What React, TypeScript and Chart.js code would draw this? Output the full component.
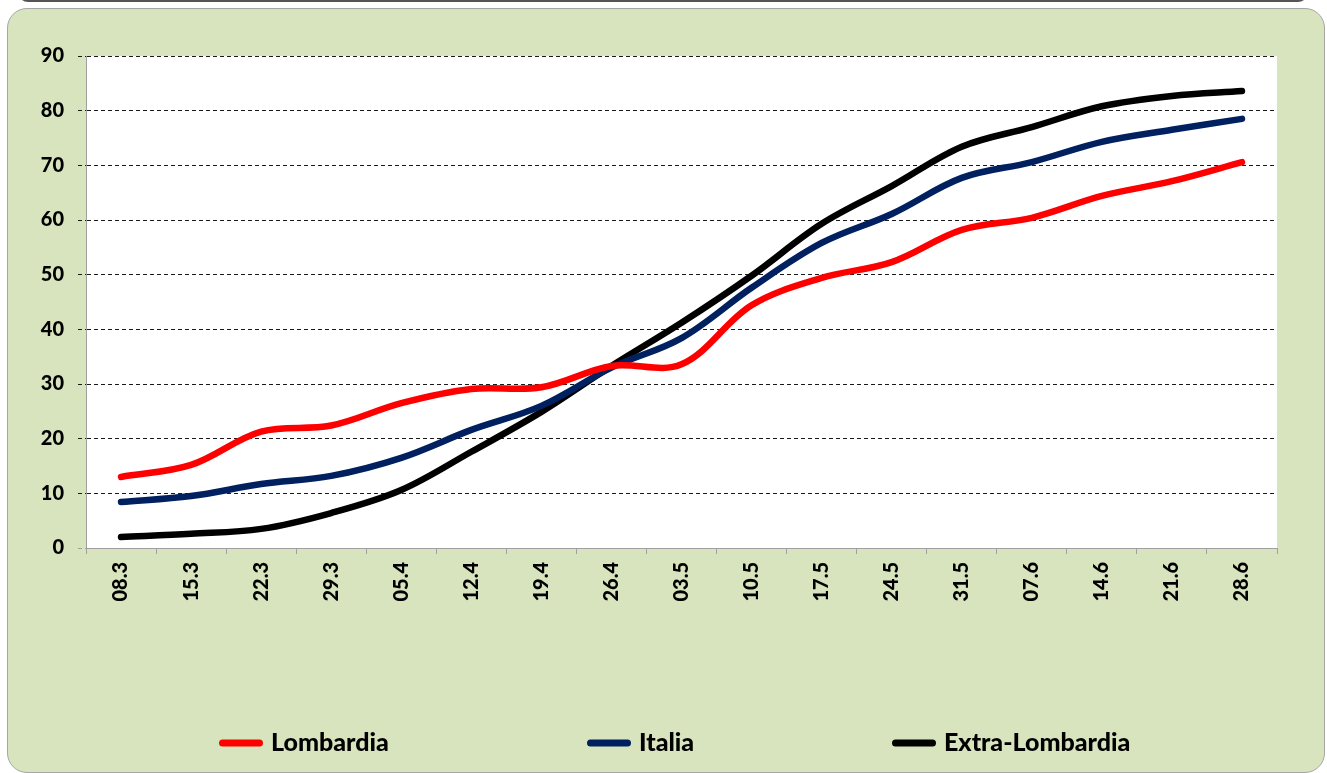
import React, { useEffect, useRef } from "react";
import { Chart, registerables } from "chart.js";

Chart.register(...registerables);

const categories = ["08.3", "15.3", "22.3", "29.3", "05.4", "12.4", "19.4", "26.4", "03.5", "10.5", "17.5", "24.5", "31.5", "07.6", "14.6", "21.6", "28.6"];
const lombardia = [13.0, 15.2, 21.3, 22.4, 26.5, 29.1, 29.4, 33.3, 33.6, 44.4, 49.4, 52.3, 58.2, 60.4, 64.4, 67.1, 70.6];
const italia = [8.4, 9.5, 11.7, 13.2, 16.5, 21.6, 26.0, 33.0, 38.4, 47.6, 55.8, 61.1, 67.7, 70.6, 74.3, 76.5, 78.5];
const extraLombardia = [2.0, 2.6, 3.5, 6.4, 10.6, 17.6, 24.9, 33.3, 41.2, 49.8, 59.3, 66.2, 73.4, 77.0, 80.8, 82.7, 83.6];
const seriesNames = ["Lombardia", "Italia", "Extra-Lombardia"];
const seriesColors = ["#ff0000", "#002060", "#000000"];

const FONT = "Lato, 'Open Sans', sans-serif";

const plotBg = {
  id: "plotBg",
  beforeDraw(chart: any) {
    const { ctx, chartArea } = chart;
    ctx.save();
    ctx.fillStyle = "#ffffff";
    ctx.fillRect(chartArea.left, chartArea.top, chartArea.right - chartArea.left, chartArea.bottom - chartArea.top);
    ctx.restore();
  },
};

const legendXs = [211, 579, 884];
const customLegend = {
  id: "customLegend",
  afterDraw(chart: any) {
    const { ctx } = chart;
    const y = 734;
    ctx.save();
    chart.data.datasets.forEach((ds: any, i: number) => {
      const x = legendXs[i];
      ctx.strokeStyle = ds.borderColor;
      ctx.lineWidth = 7;
      ctx.lineCap = "round";
      ctx.beginPath();
      ctx.moveTo(x + 3.5, y);
      ctx.lineTo(x + 40.5, y);
      ctx.stroke();
      ctx.fillStyle = "#000000";
      ctx.font = `900 25px ${FONT}`;
      ctx.textBaseline = "middle";
      ctx.textAlign = "left";
      ctx.fillText(ds.label, x + 52, y);
    });
    ctx.restore();
  },
};

export default function App() {
  const ref = useRef<HTMLCanvasElement | null>(null);
  useEffect(() => {
    document.body.style.overflow = "hidden";
    const values = [lombardia, italia, extraLombardia];
    const chart = new Chart(ref.current as HTMLCanvasElement, {
      type: "line",
      data: {
        labels: categories,
        datasets: values.map((v, i) => ({
          label: seriesNames[i],
          data: v,
          borderColor: seriesColors[i],
          backgroundColor: seriesColors[i],
          borderWidth: 6.5,
          borderCapStyle: "round",
          borderJoinStyle: "round",
          pointRadius: 0,
          tension: 0.35,
          fill: false,
        })),
      },
      options: {
        animation: false,
        responsive: false,
        maintainAspectRatio: false,
        layout: { padding: { left: 0, top: 47, right: 47, bottom: 0 } },
        plugins: { legend: { display: false }, tooltip: { enabled: false } },
        scales: {
          x: {
            type: "category",
            offset: true,
            grid: {
              offset: true,
              drawOnChartArea: false,
              drawTicks: true,
              tickLength: 6,
              color: "#a0a0a0",
            },
            border: { color: "#a0a0a0", width: 1 },
            ticks: {
              minRotation: 90,
              maxRotation: 90,
              padding: 8,
              color: "#000000",
              font: { family: FONT, size: 20, weight: "900" },
              autoSkip: false,
            },
            afterFit(scale: any) {
              scale.height = 224;
            },
          },
          y: {
            min: 0,
            max: 90,
            ticks: {
              stepSize: 10,
              padding: 14,
              color: "#000000",
              font: { family: FONT, size: 20, weight: "900" },
            },
            grid: {
              color: (c: any) => (c.tick && c.tick.value === 0 ? "#a0a0a0" : "#1a1a1a"),
              tickLength: 8,
              tickBorderDash: [4, 3],
            },
            border: { display: true, color: "#a0a0a0", width: 1, dash: [4, 3] },
            afterFit(scale: any) {
              scale.width = 78;
            },
          },
        },
      },
      plugins: [plotBg, customLegend],
    } as any);
    return () => chart.destroy();
  }, []);

  return (
    <div>
      <div
        style={{
          position: "absolute",
          left: 18,
          top: -30,
          width: 1290,
          height: 32,
          border: "2px solid #555555",
          borderRadius: 10,
          background: "#ffffff",
          boxSizing: "border-box",
        }}
      />
      <div
        style={{
          position: "absolute",
          left: 7,
          top: 8,
          width: 1318,
          height: 765,
          border: "1px solid #a6a6a6",
          borderRadius: 20,
          background: "#d8e4bd",
          boxSizing: "border-box",
          overflow: "hidden",
        }}
      >
        <canvas ref={ref} width={1316} height={763} style={{ position: "absolute", left: 0, top: 0, width: 1316, height: 763 }} />
      </div>
    </div>
  );
}
